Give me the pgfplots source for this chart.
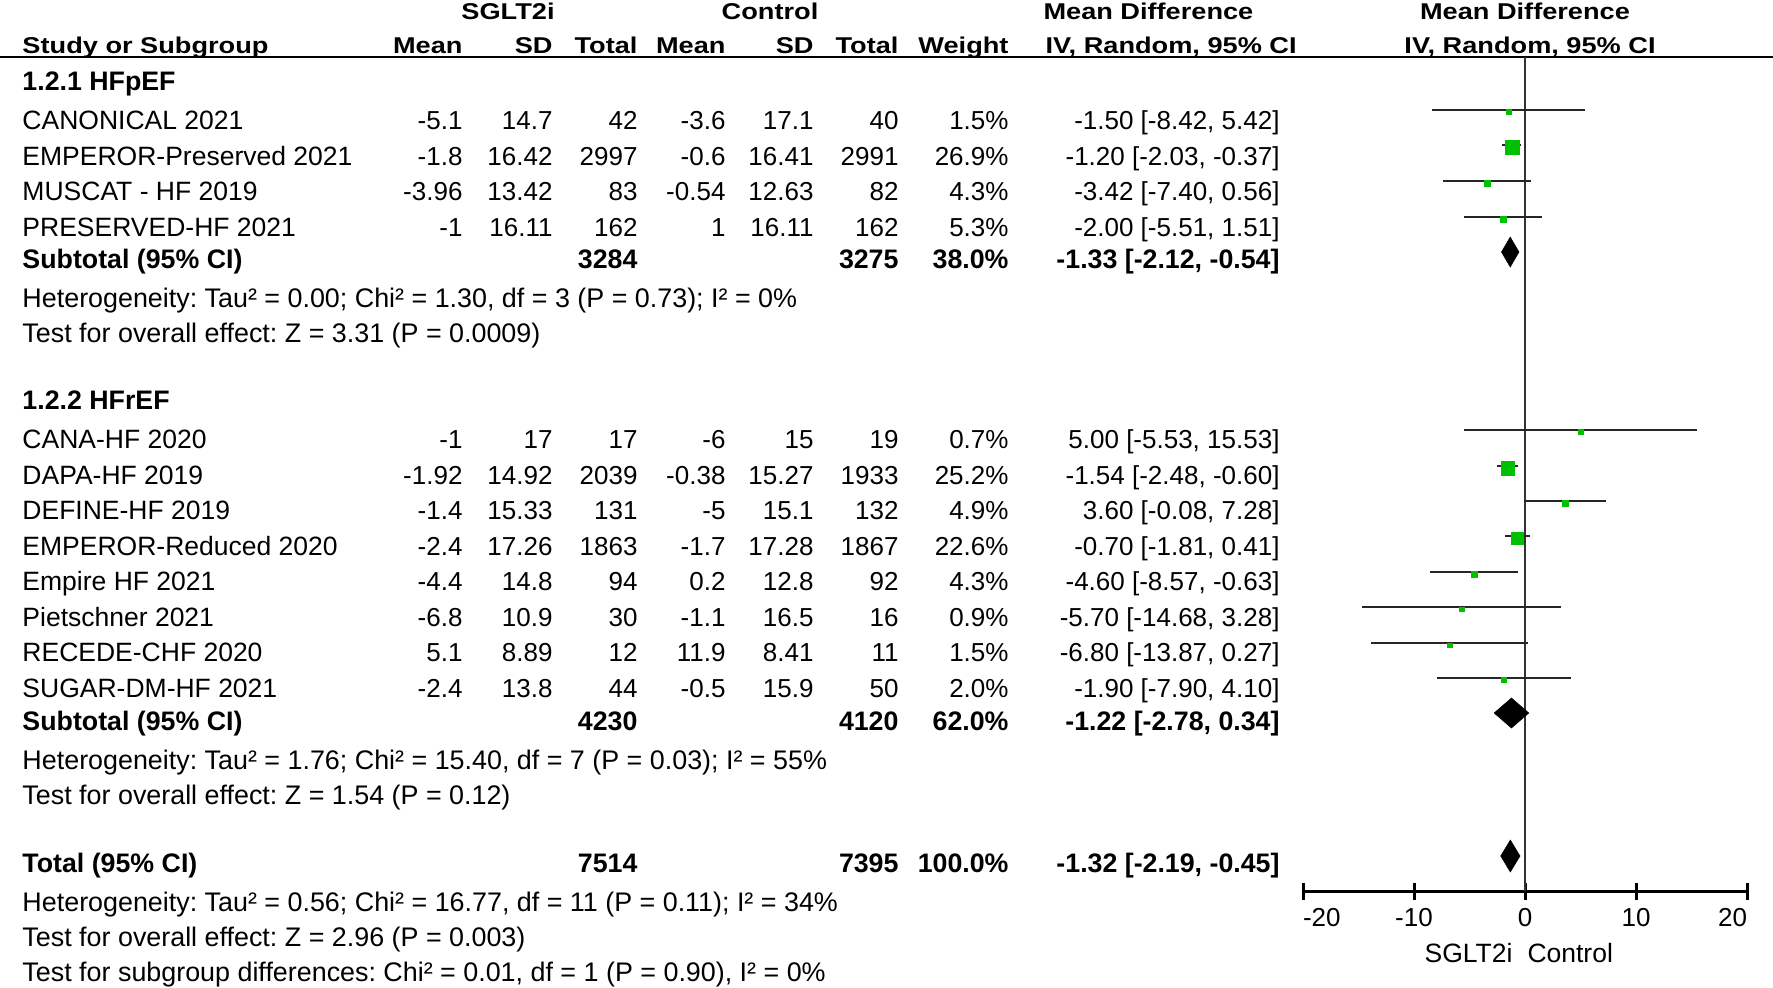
\documentclass[border=0pt]{standalone}
\usepackage{fontspec}
\setmainfont{Liberation Sans}
\usepackage{graphicx}
\usepackage{pgfplots}
\usepackage{pgfplotstable}
\pgfplotsset{compat=1.18}

\definecolor{sqgreen}{RGB}{0,192,0}

% forest rows: estimate, CI, y of line, y of square, half side of square (pt)
\pgfplotstableread{
md    lo      hi     yl  ys  s
-1.50 -8.42   5.42   877 875 1.00
-1.20 -2.03  -0.37   842 840 2.80
-3.42 -7.40   0.56   806 804 1.14
-2.00 -5.51   1.51   770 768 1.20
 5.00 -5.53  15.53   557 555 1.00
-1.54 -2.48  -0.60   521 519 2.66
 3.60 -0.08   7.28   486 484 1.20
-0.70 -1.81   0.41   451 449 2.46
-4.60 -8.57  -0.63   415 413 1.14
-5.70 -14.68  3.28   380 378 0.94
-6.80 -13.87  0.27   344 342 0.94
-1.90 -7.90   4.10   309 307 1.00
}\studies

\tikzset{lt/.style={anchor=base west,inner sep=0pt},
         rt/.style={anchor=base east,inner sep=0pt},
         ct/.style={anchor=base,inner sep=0pt}}

\newcommand\hd[1]{\scalebox{1.035}[0.87]{\fontsize{10.5}{12}\selectfont\bfseries #1}}
\newcommand\bx[1]{{\fontsize{10.7}{12}\selectfont\bfseries #1}}
\newcommand\tx[1]{{\fontsize{10.6}{12}\selectfont #1}}
\newcommand\nt[1]{{\fontsize{10.75}{12}\selectfont #1}}
\newcommand\srow[9]{%
  \node[lt] at (22,#1) {#2};
  \node[rt] at (463,#1) {#3};
  \node[rt] at (553,#1) {#4};
  \node[rt] at (638,#1) {#5};
  \node[rt] at (726,#1) {#6};
  \node[rt] at (814,#1) {#7};
  \node[rt] at (899,#1) {#8};
  \node[rt] at (1009,#1) {#9};}
\newcommand\cicol[2]{\node[rt] at (1280,#1) {#2};}

\begin{document}
\frenchspacing
\fontsize{10.4}{12.5}\selectfont
\begin{tikzpicture}
\useasboundingbox (0,0) rectangle (709.2pt,394.8pt);
\begin{axis}[at={(0pt,0pt)}, anchor=south west, scale only axis,
  width=709.2pt, height=394.8pt,
  xmin=0, xmax=1773, ymin=0, ymax=987, hide axis, clip=false]
\addplot[black, line width=1.1pt] coordinates {(0,930) (1773,930)};

% header
\node[ct] at (508,968) {\hd{SGLT2i}};
\node[ct] at (770,968) {\hd{Control}};
\node[lt] at (1043,968) {\hd{Mean Difference}};
\node[ct] at (1525,968) {\hd{Mean Difference}};
\srow{934}{\hd{Study or Subgroup}}{\hd{Mean}}{\hd{SD}}{\hd{Total}}{\hd{Mean}}{\hd{SD}}{\hd{Total}}{\hd{Weight}}
\node[lt] at (1045,934) {\hd{IV, Random, 95\% CI}};
\node[ct] at (1530,934) {\hd{IV, Random, 95\% CI}};

% 1.2.1
\node[lt] at (22,897) {\bx{1.2.1 HFpEF}};
\srow{858}{\tx{CANONICAL 2021}}{-5.1}{14.7}{42}{-3.6}{17.1}{40}{1.5\%}
\cicol{858}{-1.50 [-8.42, 5.42]}
\srow{822}{\tx{EMPEROR-Preserved 2021}}{-1.8}{16.42}{2997}{-0.6}{16.41}{2991}{26.9\%}
\cicol{822}{-1.20 [-2.03, -0.37]}
\srow{787}{\tx{MUSCAT - HF 2019}}{-3.96}{13.42}{83}{-0.54}{12.63}{82}{4.3\%}
\cicol{787}{-3.42 [-7.40, 0.56]}
\srow{751}{\tx{PRESERVED-HF 2021}}{-1}{16.11}{162}{1}{16.11}{162}{5.3\%}
\cicol{751}{-2.00 [-5.51, 1.51]}
\srow{719}{\bx{Subtotal (95\% CI)}}{}{}{\bx{3284}}{}{}{\bx{3275}}{\bx{38.0\%}}
\cicol{719}{\bx{-1.33 [-2.12, -0.54]}}
\node[lt] at (22,680) {\nt{Heterogeneity: Tau² = 0.00; Chi² = 1.30, df = 3 (P = 0.73); I² = 0\%}};
\node[lt] at (22,645) {\nt{Test for overall effect: Z = 3.31 (P = 0.0009)}};

% 1.2.2
\node[lt] at (22,578) {\bx{1.2.2 HFrEF}};
\srow{539}{\tx{CANA-HF 2020}}{-1}{17}{17}{-6}{15}{19}{0.7\%}
\cicol{539}{5.00 [-5.53, 15.53]}
\srow{503}{\tx{DAPA-HF 2019}}{-1.92}{14.92}{2039}{-0.38}{15.27}{1933}{25.2\%}
\cicol{503}{-1.54 [-2.48, -0.60]}
\srow{468}{\tx{DEFINE-HF 2019}}{-1.4}{15.33}{131}{-5}{15.1}{132}{4.9\%}
\cicol{468}{3.60 [-0.08, 7.28]}
\srow{432}{\tx{EMPEROR-Reduced 2020}}{-2.4}{17.26}{1863}{-1.7}{17.28}{1867}{22.6\%}
\cicol{432}{-0.70 [-1.81, 0.41]}
\srow{397}{\tx{Empire HF 2021}}{-4.4}{14.8}{94}{0.2}{12.8}{92}{4.3\%}
\cicol{397}{-4.60 [-8.57, -0.63]}
\srow{361}{\tx{Pietschner 2021}}{-6.8}{10.9}{30}{-1.1}{16.5}{16}{0.9\%}
\cicol{361}{-5.70 [-14.68, 3.28]}
\srow{326}{\tx{RECEDE-CHF 2020}}{5.1}{8.89}{12}{11.9}{8.41}{11}{1.5\%}
\cicol{326}{-6.80 [-13.87, 0.27]}
\srow{290}{\tx{SUGAR-DM-HF 2021}}{-2.4}{13.8}{44}{-0.5}{15.9}{50}{2.0\%}
\cicol{290}{-1.90 [-7.90, 4.10]}
\srow{257}{\bx{Subtotal (95\% CI)}}{}{}{\bx{4230}}{}{}{\bx{4120}}{\bx{62.0\%}}
\cicol{257}{\bx{-1.22 [-2.78, 0.34]}}
\node[lt] at (22,218) {\nt{Heterogeneity: Tau² = 1.76; Chi² = 15.40, df = 7 (P = 0.03); I² = 55\%}};
\node[lt] at (22,183) {\nt{Test for overall effect: Z = 1.54 (P = 0.12)}};

% total
\srow{115}{\bx{Total (95\% CI)}}{}{}{\bx{7514}}{}{}{\bx{7395}}{\bx{100.0\%}}
\cicol{115}{\bx{-1.32 [-2.19, -0.45]}}
\node[lt] at (22,76) {\nt{Heterogeneity: Tau² = 0.56; Chi² = 16.77, df = 11 (P = 0.11); I² = 34\%}};
\node[lt] at (22,41) {\nt{Test for overall effect: Z = 2.96 (P = 0.003)}};
\node[lt] at (22,6) {\nt{Test for subgroup differences: Chi² = 0.01, df = 1 (P = 0.90), I² = 0\%}};

\node[rt] at (1513,25) {\tx{SGLT2i}};
\node[lt] at (1527,25) {\tx{Control}};
\end{axis}

\begin{axis}[at={(521.2pt,38.4pt)}, anchor=south west, scale only axis,
  width=177.6pt, height=333.6pt,
  xmin=-20, xmax=20, ymin=96, ymax=930, clip=false,
  axis y line=none, axis x line=bottom,
  x axis line style={-, line width=1.2pt, black},
  xtick={-20,-10,0,10,20},
  xticklabels={\makebox[0pt][l]{-20},-10,0,10,\makebox[0pt][r]{20}},
  tick align=center, major tick length=6.8pt,
  xtick style={line width=1.2pt, black},
  xticklabel style={anchor=base, yshift=-10.8pt, inner sep=0pt}]
\addplot[black!80, line width=1pt] coordinates {(0,96) (0,930)};
\addplot[draw=none, mark=none, forget plot,
  error bars/.cd, x dir=both, x explicit, error mark=none,
  error bar style={draw=black!85, line width=0.9pt}]
  table[x=md, y=yl, x error plus expr=\thisrow{hi}-\thisrow{md},
        x error minus expr=\thisrow{md}-\thisrow{lo}] {\studies};
\addplot[scatter, only marks, mark=square*,
  scatter/use mapped color={draw=sqgreen, fill=sqgreen},
  mark options={line width=0.1pt},
  visualization depends on={\thisrow{s} \as \msz},
  scatter/@pre marker code/.append style={/tikz/mark size=\msz}]
  table[x=md, y=ys] {\studies};
% pooled diamonds
\addplot[fill=black, draw=black, line width=0.2pt]
  coordinates {(-2.12,735) (-1.33,750) (-0.54,735) (-1.33,720)} -- cycle;
\addplot[fill=black, draw=black, line width=0.2pt]
  coordinates {(-2.78,274) (-1.22,289) (0.34,274) (-1.22,259)} -- cycle;
\addplot[fill=black, draw=black, line width=0.2pt]
  coordinates {(-2.19,131) (-1.32,147) (-0.45,131) (-1.32,115)} -- cycle;
\end{axis}
\end{tikzpicture}
\end{document}
